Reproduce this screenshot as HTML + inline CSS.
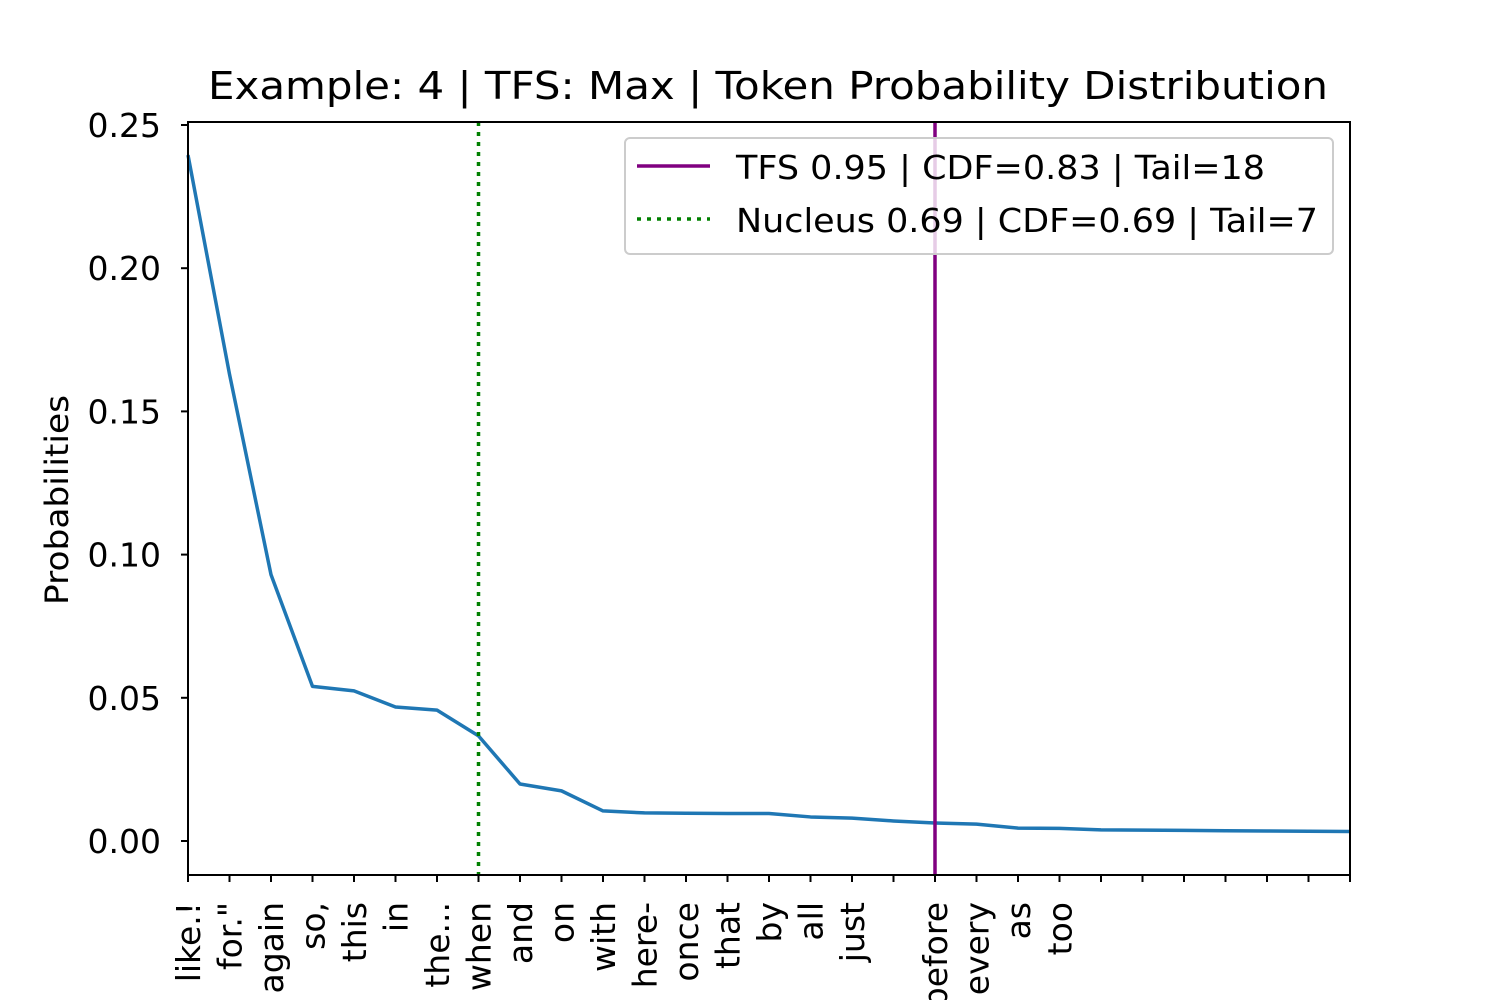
<!DOCTYPE html>
<html><head><meta charset="utf-8"><style>
html,body{margin:0;padding:0;background:#fff;}
svg{display:block;font-family:"DejaVu Sans","Liberation Sans",sans-serif;}
</style></head><body>
<svg id="chart" width="1500" height="1000" viewBox="0 0 1500 1000" xmlns="http://www.w3.org/2000/svg">
<rect width="1500" height="1000" fill="#fff"/>
<text x="768" y="99" font-size="38" text-anchor="middle" textLength="1120" lengthAdjust="spacingAndGlyphs">Example: 4 | TFS: Max | Token Probability Distribution</text>
<text transform="translate(68,500) rotate(-90)" font-size="32" text-anchor="middle" textLength="210" lengthAdjust="spacingAndGlyphs">Probabilities</text>
<g id="marks"></g>
<rect x="188" y="122" width="1162" height="753" fill="none" stroke="#000" stroke-width="2"/>
<g id="axes"></g>
<g>
<rect x="625" y="138" width="708" height="116" rx="5" fill="#fff" fill-opacity="0.8" stroke="#ccc" stroke-width="2"/>
<line x1="637" y1="166" x2="710" y2="166" stroke="#800080" stroke-width="3.5"/>
<text x="736" y="179" font-size="33" textLength="529" lengthAdjust="spacingAndGlyphs">TFS 0.95 | CDF=0.83 | Tail=18</text>
<line x1="637" y1="219" x2="710" y2="219" stroke="#008000" stroke-width="3.5" stroke-dasharray="4,6"/>
<text x="736" y="232" font-size="33" textLength="582" lengthAdjust="spacingAndGlyphs">Nucleus 0.69 | CDF=0.69 | Tail=7</text>
</g>
</svg>
<script>
const tokens = ["like.!","for.\"","again","so,","this","in","the...","when","and","on","with","here-","once","that","by","all","just"," ","before","every","as","too","","","","","","",""];
const probs = [0.2395,0.163,0.093,0.054,0.0524,0.0468,0.0457,0.0367,0.0199,0.0175,0.0105,0.0098,0.0097,0.0096,0.0096,0.0084,0.0080,0.0070,0.0063,0.0059,0.0045,0.0044,0.0039,0.0038,0.0037,0.0036,0.0035,0.0034,0.0033];
const yTicks = [0,0.05,0.10,0.15,0.20,0.25];
const yTickLabels = ["0.00","0.05","0.10","0.15","0.20","0.25"];
const nucleusIndex = 7;
const tfsIndex = 18;

const NS="http://www.w3.org/2000/svg";
const X0=188,X1=1350;
function xs(i){return X0+i*(X1-X0)/(tokens.length-1);}
function ys(v){return 841-v*2864;}
function mk(tag,attrs,parent){const e=document.createElementNS(NS,tag);for(const k in attrs)e.setAttribute(k,attrs[k]);parent.appendChild(e);return e;}
const axes=document.getElementById('axes'), marks=document.getElementById('marks');

yTicks.forEach((v,i)=>{
  const t=mk('line',{x1:181,x2:188,y1:ys(v),y2:ys(v),stroke:'#000','stroke-width':2},axes);
  
  
  const l=mk('text',{x:161,y:ys(v)+12,'font-size':33,'text-anchor':'end'},axes);
  l.textContent=yTickLabels[i];
  
  
});
tokens.forEach((tok,i)=>{
  const t=mk('line',{x1:xs(i),x2:xs(i),y1:875,y2:882,stroke:'#000','stroke-width':2},axes);
  
  
  if(tok.trim()){
    const l=mk('text',{transform:`translate(${xs(i)+12},902) rotate(-90)`,'font-size':33,'text-anchor':'end'},axes);
    l.textContent=tok;
    
    
  }
});
const pts=probs.map((p,i)=>xs(i)+','+ys(p)).join(' ');
const line=mk('polyline',{points:pts,fill:'none',stroke:'#1f77b4','stroke-width':3.5,'stroke-linejoin':'round'},marks);


const nl=mk('line',{x1:xs(nucleusIndex),x2:xs(nucleusIndex),y1:122,y2:875,stroke:'#008000','stroke-width':3.5,'stroke-dasharray':'4,6'},marks);


const tl=mk('line',{x1:xs(tfsIndex),x2:xs(tfsIndex),y1:122,y2:875,stroke:'#800080','stroke-width':3.5},marks);


</script>
</body></html>
